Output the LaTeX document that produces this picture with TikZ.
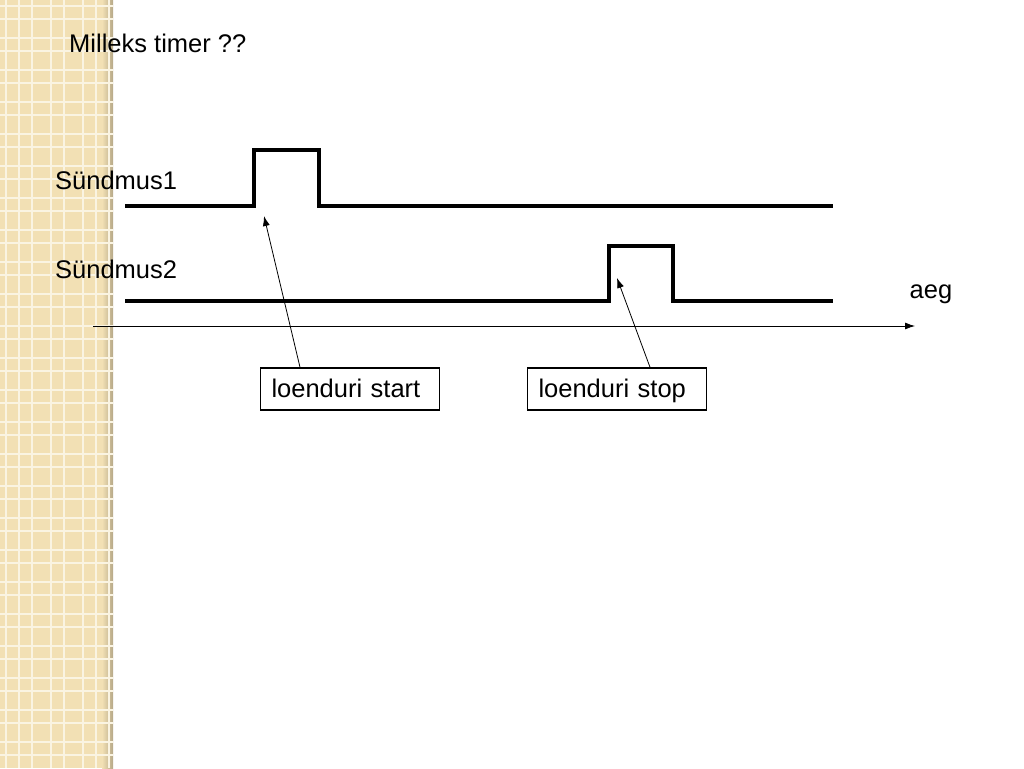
\documentclass[tikz,border=0pt]{standalone}
\usepackage{fontspec}
\setmainfont{Liberation Sans}
\usetikzlibrary{positioning,arrows.meta}
\definecolor{strip}{RGB}{242,224,180}
\definecolor{gridline}{RGB}{250,244,226}

\begin{document}
\begin{tikzpicture}[x=1pt,y=-1pt,
    signal/.style={line width=4pt},
    txt/.style={font=\fontsize{25.5}{30}\selectfont, inner sep=0pt},
    cbox/.style={draw, line width=1.5pt, minimum height=42pt, inner xsep=11pt, inner ysep=0pt,
        text width=157pt, align=left, text height=18pt, text depth=2pt, font=\fontsize{25.5}{30}\selectfont},
    ptr/.style={-{Latex[length=10pt,width=7pt]}, line width=0.8pt}]
    \useasboundingbox (0,0) rectangle (1024,768);

    % Left strip
    \fill[strip] (0,0) rectangle (113,768);
    \shade[left color=strip, right color=strip!75!black] (102,0) rectangle (113,768);
    \foreach \x in {6,19,32,51,64,83,96,109}
        \draw[gridline, line width=1.2pt] (\x,0) -- (\x,768);
    \foreach \y in {6,19,38,51,70,83,102,115,134,147,166,179,198,211,230,243,262,275,294,307,326,339,358,371,390,403,422,435,454,467,486,499,518,531,550,563,582,595,614,627,646,659,678,691,710,723,742,755}
        \draw[gridline, line width=1.2pt] (0,\y) -- (113,\y);

    % Titles
    \node[txt, anchor=west] (title) at (69,43) {Milleks timer ??};
    \node[txt, anchor=west] (ev1) at (55,180) {Sündmus1};
    \node[txt, anchor=west] (ev2) at (55,269) {Sündmus2};
    \node[txt] (clock) at (931,294) {aeg};

    % Signals
    \draw[signal] (125,206) -- (254,206) -- (254,150) -- (319,150) -- (319,206) -- (833,206);
    \draw[signal] (125,301) -- (609,301) -- (609,246) -- (673,246) -- (673,301) -- (833,301);

    % Time axis
    \coordinate (t0) at (93,326);
    \coordinate (t1) at (915,326);
    \draw[ptr] (t0) -- (t1);

    % Counter boxes
    \node[cbox] (start) at (350,389) {loenduri start};
    \node[cbox] (stop) at (617,389) {loenduri stop};
    \coordinate (tipA) at (264,216);
    \coordinate (tipB) at (617,278);
    \draw[ptr] ([xshift=-50pt]start.north) -- (tipA);
    \draw[ptr] ([xshift=33pt]stop.north) -- (tipB);
\end{tikzpicture}
\end{document}
